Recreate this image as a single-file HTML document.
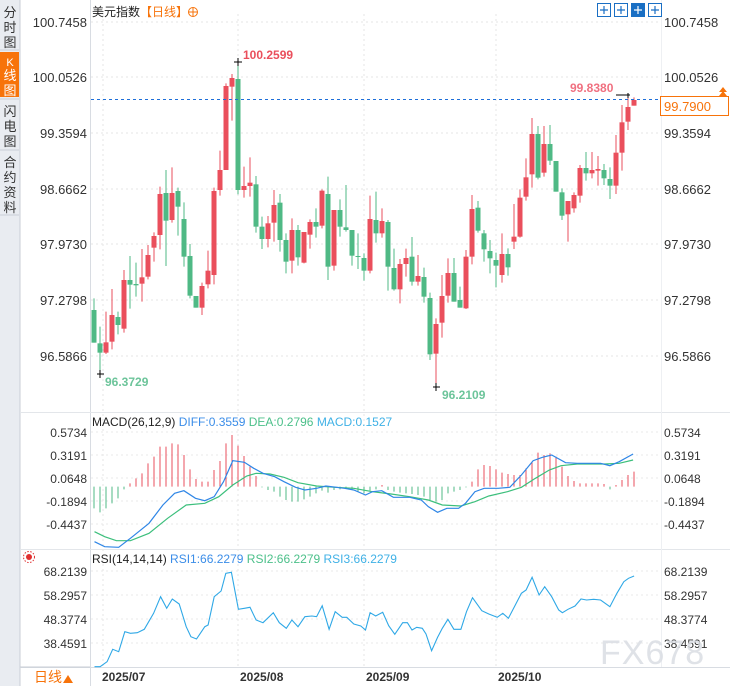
<!DOCTYPE html>
<html><head><meta charset="utf-8"><style>
body{margin:0;background:#fff;width:730px;height:686px;overflow:hidden;font-family:"Liberation Sans","Noto Sans CJK SC",sans-serif}
svg{position:absolute;left:0;top:0}
</style></head><body>
<svg id="s" width="730" height="686" xmlns="http://www.w3.org/2000/svg" font-family="Liberation Sans, Noto Sans CJK SC, sans-serif">
<rect x="0" y="0" width="20" height="686" fill="#e9ecf1"/>
<line x1="20" y1="0" x2="20" y2="686" stroke="#c9ced6"/>
<rect x="0" y="52" width="19" height="45" fill="#f7730a"/>
<g font-size="13" fill="#333" text-anchor="middle">
<text x="10" y="17">分</text><text x="10" y="32">时</text><text x="10" y="47">图</text>
<text x="10" y="66" fill="#fff" font-size="11">K</text><text x="10" y="80" fill="#fff">线</text><text x="10" y="95" fill="#fff">图</text>
<text x="10" y="116">闪</text><text x="10" y="131">电</text><text x="10" y="146">图</text>
<text x="10" y="167">合</text><text x="10" y="182">约</text><text x="10" y="197">资</text><text x="10" y="212">料</text>
</g>
<line x1="0" y1="50" x2="19" y2="50" stroke="#c9ced6"/><line x1="0" y1="99" x2="19" y2="99" stroke="#c9ced6"/><line x1="0" y1="150" x2="19" y2="150" stroke="#c9ced6"/><line x1="0" y1="215" x2="19" y2="215" stroke="#c9ced6"/>
<g id="g"></g>
</svg>
<script>
const g=document.getElementById('g');let h='';
const R='#ea4f5c',G='#4fb985';
// frame
h+=`<line x1="90.5" y1="0" x2="90.5" y2="686" stroke="#d8dce2"/>`;
h+=`<line x1="20" y1="412.5" x2="730" y2="412.5" stroke="#e3e6ea"/>`;
h+=`<line x1="20" y1="549.5" x2="730" y2="549.5" stroke="#e3e6ea"/>`;
h+=`<line x1="20" y1="667.5" x2="730" y2="667.5" stroke="#d8dce2"/>`;
h+=`<line x1="661.5" y1="0" x2="661.5" y2="667" stroke="#eef0f3"/>`;
[238,364,496].forEach(x=>h+=`<line x1="${x}" y1="14" x2="${x}" y2="667" stroke="#e6e6e6" stroke-dasharray="2,3"/>`);
h+=`<line x1="103" y1="14" x2="103" y2="667" stroke="#e6e6e6" stroke-dasharray="2,3"/>`;
// price grid
const pl=[[22,'100.7458'],[77,'100.0526'],[133,'99.3594'],[189,'98.6662'],[244,'97.9730'],[300,'97.2798'],[356,'96.5866']];
pl.forEach(([y,t])=>{h+=`<line x1="91" y1="${y}" x2="661" y2="${y}" stroke="#e6e6e6" stroke-dasharray="2,3"/>`;
h+=`<text x="87" y="${y+5}" font-size="13" fill="#333" text-anchor="end">${t}</text><text x="664" y="${y+5}" font-size="13" fill="#333">${t}</text>`;});
// candles
const A=[[40,[['G',810,908,775,908],['G',910,938,860,1002],['R',907,938,815,942],['R',825,905,747,928],['G',831,855,815,883],['R',720,866,690,878],['G',720,734,648,806],['G',732,736,668,770],['R',712,731,627,785],['R',645,710,615,718],['R',588,623,577,665],['R',462,585,440,628],['G',459,542,390,678],['R',459,540,382,548],['G',453,500,443,587],['G',537,650,487,680],['G',648,767,612,775],['G',768,803,768,803],['R',738,803,728,825],['R',692,733,632,745],['R',453,705,443,733],['R',390,450,332,467],['R',138,390,130,390],['R',114,140,102,242],['G',117,450,66,463],['R',438,450,380,473],['R',428,438,352,470],['G',433,560,408,578],['G',560,597,530,627],['R',550,597,528,622]]],
[140,[['R',195,248,150,305],['G',188,300,162,335],['G',300,365,280,400],['R',270,362,235,400],['G',270,352,255,377],['R',276,368,276,370],['R',246,284,238,326],['G',246,260,205,293],['R',152,257,148,265],['G',162,380,110,420],['R',210,377,210,392],['G',210,260,178,290],['G',262,270,135,275],['G',270,347,270,377],['G',348,350,280,387],['G',354,392,340,422],['R',237,392,167,400],['G',240,280,155,308],['R',243,280,205,293],['G',246,380,240,452],['G',384,448,326,452],['R',372,448,357,490],['R',354,372,326,410],['G',350,425,291,437],['R',408,425,345,437],['G',411,470,383,488],['G',474,643,458,660],['R',552,641,535,740],['R',468,548,405,593],['R',399,467,355,488],['G',399,485,354,485]]],
[90,[['G',630,653,590,653],['R',500,655,480,657],['R',357,500,315,523],['G',353,422,333,428],['G',430,478,420,515],['G',483,505,450,550],['G',510,527,488,592],['R',492,555,430,578],['G',492,532,475,557],['R',440,455,342,477],['R',323,440,298,443],['R',262,320,205,332],['R',132,253,84,293],['G',132,263,108,268],['R',162,248,108,260],['G',162,212,105,225],['G',213,305,213,305],['G',307,377,295,390],['R',333,373,333,455],['R',315,355,307,368],['R',234,317,225,338],['G',234,250,186,272],['R',240,250,186,265],['R',237,242,198,287],['G',240,265,222,285],['G',267,287,232,327],['R',188,287,135,312],['R',97,188,45,242],['R',51,95,12,120],['R',30,47,22,47]]]];
let i=0;
A.forEach(([o,arr])=>arr.forEach(c=>{const x=94+6*i;const col=c[0]=='R'?R:G;const f=v=>o+v/3;
let bt=f(c[1]),bb=f(c[2]);if(bb-bt<1)bb=bt+1;
h+=`<line x1="${x}" y1="${f(c[3])}" x2="${x}" y2="${f(c[4])}" stroke="${col}"/>`;
h+=`<rect x="${x-2.5}" y="${bt}" width="5" height="${bb-bt}" fill="${col}"/>`;i++;}));
// current price line
h+=`<line x1="91" y1="99.5" x2="660" y2="99.5" stroke="#1e6fd9" stroke-dasharray="3,3"/>`;
h+=`<rect x="660.5" y="96.5" width="68" height="19" fill="#fff" stroke="#f7730a"/><text x="664" y="111" font-size="13" fill="#f7730a">99.7900</text>`;
h+=`<path d="M719 96 L723 91 L727 96 Z M719 92 L723 87 L727 92Z" fill="#f7730a"/>`;
// annotations
h+=`<path d="M234 62h8M238 58v8" stroke="#000"/><text x="243" y="59" font-size="12" font-weight="bold" fill="#ea4f5c">100.2599</text>`;
h+=`<path d="M97 374h7M100 370v8" stroke="#000"/><text x="105" y="386" font-size="12" font-weight="bold" fill="#6cc49a">96.3729</text>`;
h+=`<path d="M433 387h7M436 383v8" stroke="#000"/><text x="442" y="399" font-size="12" font-weight="bold" fill="#6cc49a">96.2109</text>`;
h+=`<path d="M616 95h14M628 93v5" stroke="#000"/><text x="570" y="92" font-size="12" font-weight="bold" fill="#f07080">99.8380</text>`;
// title
h+=`<text x="92" y="16" font-size="12" fill="#222">美元指数<tspan fill="#f7730a">【日线】</tspan></text>`;
h+=`<circle cx="193" cy="12" r="4.5" fill="none" stroke="#f7730a"/><path d="M188.5 12h9M193 7.5v9" stroke="#f7730a"/>`;
[597,614,631,648].forEach((x,k)=>{h+=`<rect x="${x+.5}" y="3.5" width="13" height="13" fill="${k==2?'#1a6fc4':'#fff'}" stroke="#1a6fc4"/>`;
h+=`<path d="M${x+3} 10h8M${x+7} 6v8" stroke="${k==2?'#fff':'#1a6fc4'}" stroke-width="1.2"/>`;});
// MACD
h+=`<text x="92" y="426" font-size="12" fill="#222">MACD(26,12,9) <tspan fill="#3b8de8">DIFF:0.3559</tspan> <tspan fill="#4cc08a">DEA:0.2796</tspan> <tspan fill="#3fb1e6">MACD:0.1527</tspan></text>`;
[[432,'0.5734'],[455,'0.3191'],[478,'0.0648'],[501,'-0.1894'],[524,'-0.4437']].forEach(([y,t])=>{h+=`<line x1="91" y1="${y}" x2="661" y2="${y}" stroke="#e8e8e8" stroke-dasharray="2,3"/><text x="87" y="${y+5}" font-size="12" fill="#333" text-anchor="end">${t}</text><text x="664" y="${y+5}" font-size="12" fill="#333">${t}</text>`;});
const H=[325,337,325,310,295,268,250,235,220,190,170,140,140,130,133,165,208,237,245,245,210,183,130,105,137,168,200,228,262,270,275,290,300,305,305,298,290,280,272,278,270,268,265,268,275,280,272,268,255,270,275,278,280,282,285,290,300,305,300,280,275,270,262,245,208,195,198,208,218,222,225,225,205,185,158,165,160,170,200,228,243,250,250,250,250,252,268,255,240,225,215];
const zy=v=>400+v/3, zx=v=>v/2.148;
H.forEach((v,k)=>{const x=94+6*k;h+=`<line x1="${x}" y1="${zy(260)}" x2="${x}" y2="${zy(v)}" stroke="${v<260?R:G}"/>`;});
const pts=a=>a.map(p=>zx(p[0]).toFixed(1)+','+zy(p[1]).toFixed(1)).join(' ');
const D=[[203,425],[225,440],[255,442],[280,415],[320,370],[350,315],[375,280],[395,272],[420,295],[440,302],[460,290],[480,245],[500,182],[525,187],[545,205],[565,220],[590,230],[610,245],[635,262],[655,270],[680,265],[700,258],[740,265],[760,270],[785,285],[800,275],[820,272],[845,292],[880,292],[905,300],[920,320],[940,337],[960,325],[985,325],[1000,310],[1020,275],[1040,265],[1070,265],[1095,262],[1120,225],[1145,182],[1165,172],[1185,165],[1215,188],[1240,190],[1290,190],[1310,197],[1330,185],[1360,162]];
const E=[[203,395],[225,410],[250,422],[280,422],[320,400],[360,355],[400,315],[440,310],[470,290],[500,255],[530,228],[550,220],[580,222],[610,232],[640,248],[680,258],[720,262],[760,265],[800,275],[840,282],[880,290],[920,300],[950,315],[990,318],[1020,305],[1050,288],[1090,275],[1120,262],[1150,235],[1180,210],[1205,197],[1240,192],[1300,192],[1330,190],[1360,180]];
h+=`<polyline points="${pts(E)}" fill="none" stroke="#3cbf7c" stroke-width="1.2"/>`;
h+=`<polyline points="${pts(D)}" fill="none" stroke="#2f86e6" stroke-width="1.2"/>`;
// RSI
h+=`<circle cx="29" cy="557" r="3" fill="#e03030"/><circle cx="29" cy="557" r="5.5" fill="none" stroke="#e03030" stroke-dasharray="1.5,1.5"/>`;
h+=`<text x="92" y="563" font-size="12" fill="#222">RSI(14,14,14) <tspan fill="#3b8de8">RSI1:66.2279</tspan> <tspan fill="#4cc08a">RSI2:66.2279</tspan> <tspan fill="#3fb1e6">RSI3:66.2279</tspan></text>`;
[[571,'68.2139'],[595,'58.2957'],[619,'48.3774'],[643,'38.4591']].forEach(([y,t])=>{h+=`<line x1="91" y1="${y}" x2="661" y2="${y}" stroke="#e8e8e8" stroke-dasharray="2,3"/><text x="87" y="${y+5}" font-size="12" fill="#333" text-anchor="end">${t}</text><text x="664" y="${y+5}" font-size="12" fill="#333">${t}</text>`;});
const RS=[[203,800],[215,800],[230,785],[242,748],[255,755],[268,695],[280,700],[295,698],[310,688],[330,640],[345,590],[358,625],[370,597],[385,612],[400,680],[410,710],[422,717],[440,680],[447,675],[460,590],[475,573],[485,520],[497,517],[512,628],[525,625],[537,622],[550,660],[565,668],[587,638],[600,668],[615,685],[627,660],[640,680],[655,650],[670,648],[680,650],[692,617],[707,688],[720,635],[735,652],[745,652],[760,672],[775,678],[785,690],[795,638],[807,648],[822,637],[835,677],[848,703],[865,668],[875,668],[885,690],[895,682],[907,685],[915,702],[927,752],[940,712],[950,685],[962,658],[975,688],[990,688],[1002,635],[1015,593],[1035,632],[1050,642],[1068,652],[1080,640],[1092,655],[1105,620],[1120,580],[1130,570],[1143,532],[1158,585],[1170,560],[1185,590],[1200,630],[1208,638],[1220,628],[1235,618],[1248,597],[1260,600],[1275,598],[1290,600],[1310,620],[1325,580],[1340,545],[1350,535],[1362,528]];
h+=`<polyline points="${pts(RS)}" fill="none" stroke="#2fa8e6" stroke-width="1.1"/>`;
// watermark
h+=`<text x="600" y="664" font-size="34" fill="#d9dde3" fill-opacity="0.85" letter-spacing="1">FX678</text>`;
// bottom axis
[[102,'2025/07'],[240,'2025/08'],[366,'2025/09'],[498,'2025/10']].forEach(([x,t])=>{h+=`<text x="${x}" y="681" font-size="12" font-weight="bold" fill="#333">${t}</text>`;});
h+=`<line x1="20" y1="667" x2="90" y2="667" stroke="#c9ced6"/>`;
h+=`<text x="34" y="682" font-size="14" fill="#f7730a">日线</text><path d="M63 683 L68 675 L73 683Z" fill="#f7730a"/>`;
g.innerHTML=h;
</script>
</body></html>
